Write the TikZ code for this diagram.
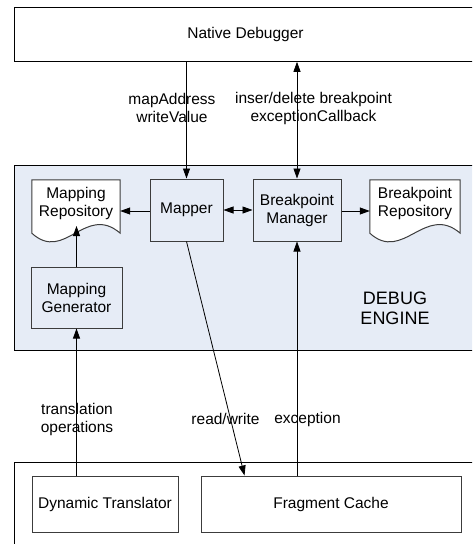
\documentclass[tikz,border=0pt]{standalone}
\usepackage{fontspec}
\setmainfont{Liberation Sans}
\usetikzlibrary{arrows.meta,calc}
\definecolor{engbg}{RGB}{230,236,246}
\definecolor{boxline}{RGB}{60,60,60}
\tikzset{
  txt/.style={font=\fontsize{15.5}{18}\selectfont, align=center, inner sep=0pt},
  bigtxt/.style={font=\fontsize{18}{20}\selectfont, align=center, inner sep=0pt},
  blk/.style={draw=boxline, line width=1pt, inner sep=0pt, align=center,
              font=\fontsize{15.5}{18}\selectfont},
  docnode/.style={inner sep=0pt, minimum width=88pt, minimum height=62pt},
  docpath/.style={draw=boxline, line width=1pt, fill=white},
  arr/.style={line width=0.8pt, -{Triangle[length=10pt,width=7pt]}},
  darr/.style={line width=0.8pt, {Triangle[length=10pt,width=7pt]}-{Triangle[length=10pt,width=7pt]}},
  ln/.style={line width=0.8pt}
}
\begin{document}
\begin{tikzpicture}[x=1pt,y=-1pt]
\clip (0,0) rectangle (472,544);
\fill[white] (0,0) rectangle (472,544);
% outer frames
\node[draw=black, line width=0.8pt, fill=white, minimum width=466pt, minimum height=54pt, inner sep=0pt, anchor=north west] (nd) at (14,7) {};
\node[txt] (ndt) at (245.5,34) {Native Debugger};
\node[draw=black, line width=0.8pt, fill=engbg, minimum width=466pt, minimum height=185pt, inner sep=0pt, anchor=north west] (eng) at (14,165) {};
\node[draw=black, line width=0.8pt, fill=white, minimum width=466pt, minimum height=100pt, inner sep=0pt, anchor=north west] (low) at (14,462) {};
% engine blocks
\node[blk, fill=engbg, minimum width=73pt, minimum height=62pt] (mapper) at (186.5,210) {Mapper};
\node[blk, fill=engbg, minimum width=88pt, minimum height=62pt] (bm) at (297,210) {Breakpoint\\Manager};
\node[blk, fill=engbg, minimum width=91pt, minimum height=61pt] (mg) at (76.5,297.5) {Mapping\\Generator};
% document shapes
\node[docnode] (mr) at (76,211) {};
\draw[docpath] (mr.north west) -- (mr.north east) -- ([yshift=9pt]mr.south east)
  .. controls +(-35,-30) and +(33,30) .. ([yshift=9pt]mr.south west) -- cycle;
\node[txt] (mrt) at (76,203) {Mapping\\Repository};
\node[docnode, minimum width=90pt] (br) at (415,211) {};
\draw[docpath] (br.north west) -- (br.north east) -- ([yshift=9pt]br.south east)
  .. controls +(-35,-30) and +(33,30) .. ([yshift=9pt]br.south west) -- cycle;
\node[txt] (brt) at (415,203) {Breakpoint\\Repository};
\node[bigtxt] (engt) at (395,308) {DEBUG\\ENGINE};
% lower blocks
\node[blk, fill=white, minimum width=146pt, minimum height=56pt] (dt) at (105,504) {Dynamic Translator};
\node[blk, fill=white, minimum width=260pt, minimum height=56pt] (fc) at (331,504) {Fragment Cache};
% connectors
\coordinate (mrw) at (77,226);
\draw[arr] (nd.south -| mapper.north) -- (mapper.north);
\draw[darr] (nd.south -| bm.north) -- (bm.north);
\draw[arr] (mapper.west |- mr.east) -- (mr.east);
\draw[darr] (mapper.east |- bm.west) -- (bm.west);
\draw[arr] (bm.east |- br.west) -- (br.west);
\draw[arr] (mg.north) -- (mg.north |- mrw);
\draw[arr] (dt.north -| mg.south) -- (mg.south);
\draw[arr] (mapper.south) -- ([xshift=44pt]fc.north west);
\draw[arr] (fc.north -| bm.south) -- (bm.south);
% labels
\node[txt] (l1) at (172,108) {mapAddress\\writeValue};
\node[txt] (l2) at (313.5,108) {inser/delete breakpoint\\exceptionCallback};
\node[txt] (l3) at (77,419.5) {translation\\operations};
\node[txt] (l4) at (225.5,419) {read/write};
\node[txt] (l5) at (307.5,419) {exception};
\end{tikzpicture}
\end{document}
